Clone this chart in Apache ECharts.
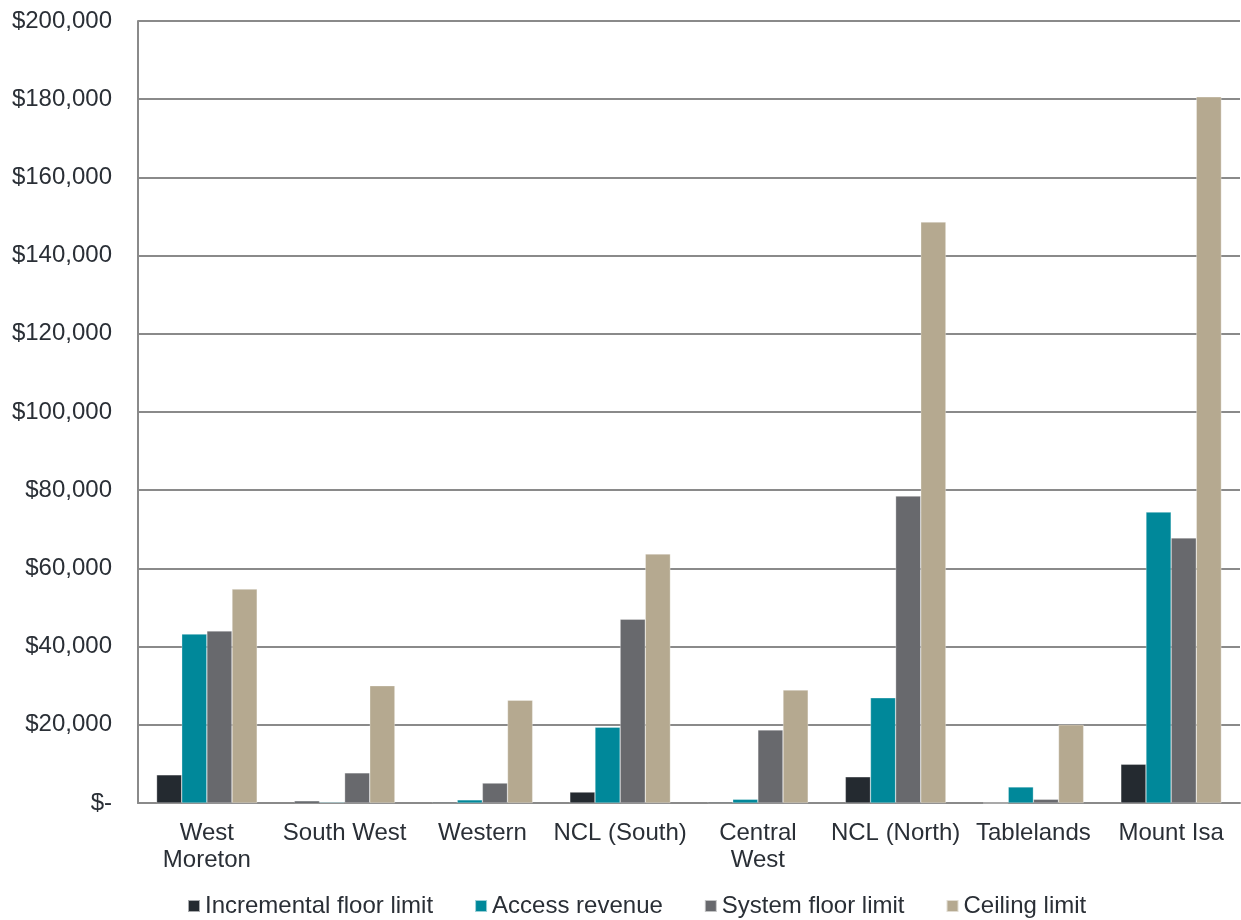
<!DOCTYPE html>
<html>
<head>
<meta charset="utf-8">
<script src="https://cdn.jsdelivr.net/npm/echarts@6/dist/echarts.min.js"></script>
<style>
  html, body { margin: 0; padding: 0; background: #fff; }
  #chart { width: 1241px; height: 920px; }
</style>
</head>
<body>
<div id="chart"></div>
<script>
// categories (regions) and the four series, values in $
var categories = ["West\nMoreton", "South West", "Western", "NCL (South)", "Central\nWest", "NCL (North)", "Tablelands", "Mount Isa"];
var incrementalFloor = [7200, 500, 300, 2800, 300, 6700, 0, 9900];
var accessRevenue   = [43200, 200, 800, 19400, 950, 26900, 4100, 74400];
var systemFloor     = [44000, 7700, 5100, 47000, 18700, 78500, 950, 67800];
var ceilingLimit    = [54700, 30000, 26300, 63700, 28900, 148600, 20000, 180600];

var seriesNames  = ["Incremental floor limit", "Access revenue", "System floor limit", "Ceiling limit"];
var seriesColors = ["#242a30", "#00889a", "#68696d", "#b5a990"];
var seriesData   = [incrementalFloor, accessRevenue, systemFloor, ceilingLimit];

var FONT = "'Liberation Sans', Arial, sans-serif";
var TEXT = "#2a2f36";

function money(v) {
  if (v === 0) return "$-";
  return "$" + String(v).replace(/\B(?=(\d{3})+(?!\d))/g, ",");
}

var chart = echarts.init(document.getElementById("chart"));
chart.setOption({
  animation: false,
  textStyle: { fontFamily: FONT },
  grid: { left: 138, right: 1, top: 21, bottom: 117, containLabel: false },
  legend: {
    left: 182, top: 889,
    itemWidth: 12, itemHeight: 12, itemGap: 41,
    icon: "rect",
    textStyle: { fontFamily: FONT, fontSize: 24, color: TEXT },
    data: seriesNames
  },
  xAxis: {
    type: "category",
    data: categories,
    axisLine: { lineStyle: { color: "#8a8a8a", width: 2 } },
    axisTick: { show: false },
    axisLabel: { fontFamily: FONT, fontSize: 24, color: TEXT, margin: 17, lineHeight: 27, interval: 0 }
  },
  yAxis: {
    type: "value",
    min: 0, max: 200000, interval: 20000,
    axisLine: { show: true, lineStyle: { color: "#8a8a8a", width: 2 } },
    axisTick: { show: false },
    splitLine: { lineStyle: { color: "#8a8a8a", width: 2 } },
    axisLabel: { fontFamily: FONT, fontSize: 24, color: TEXT, margin: 26, formatter: money }
  },
  series: seriesNames.map(function (name, i) {
    return {
      name: name,
      type: "bar",
      data: seriesData[i],
      barGap: "0%",
      barCategoryGap: "27%",
      itemStyle: { color: seriesColors[i], borderColor: "rgba(255,255,255,0.6)", borderWidth: 0.5 }
    };
  })
});
</script>
</body>
</html>
